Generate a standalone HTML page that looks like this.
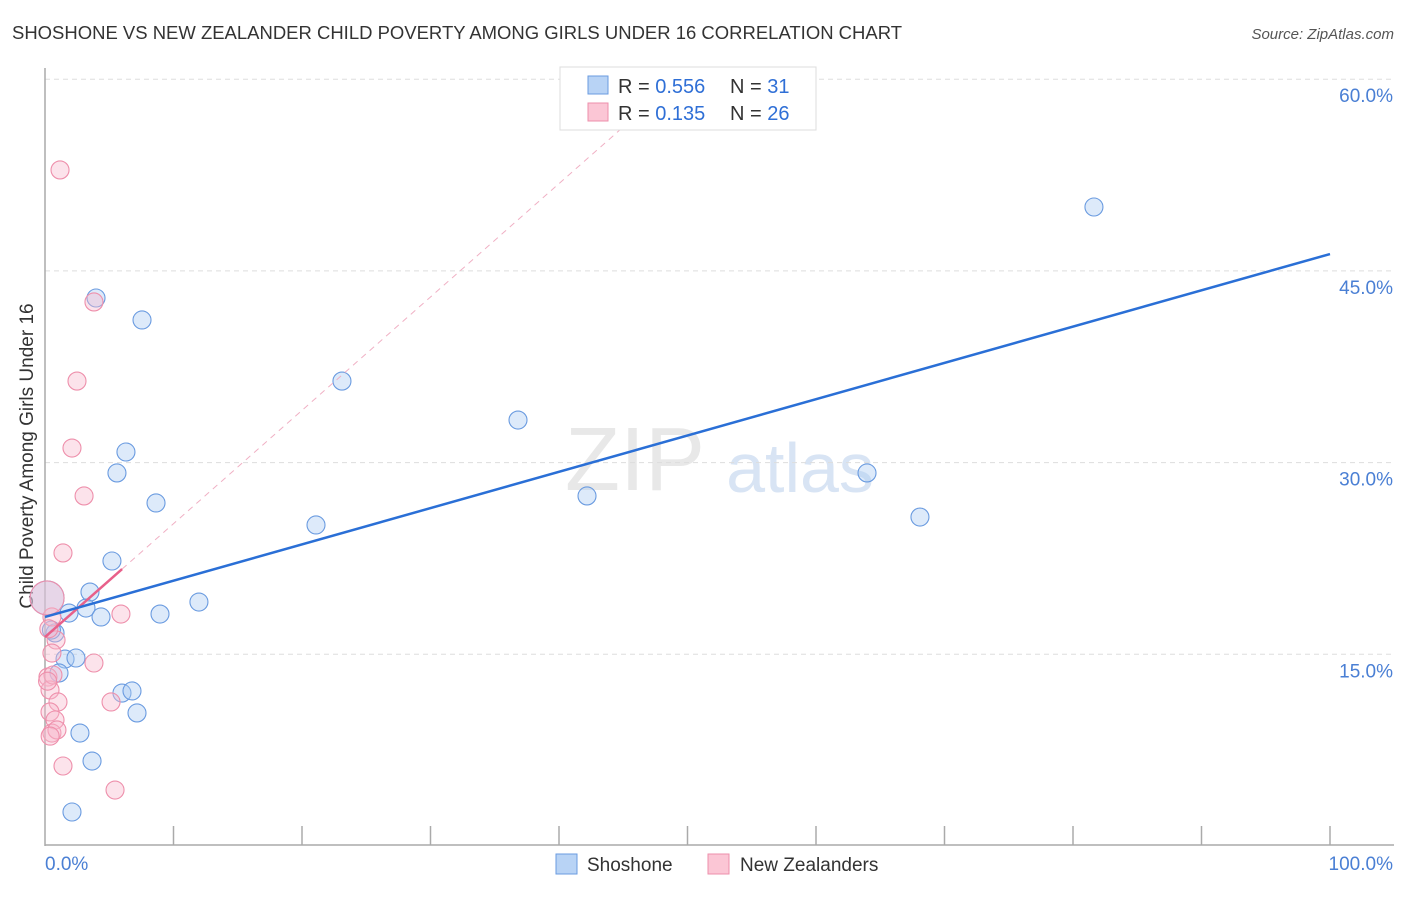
<!DOCTYPE html>
<html><head><meta charset="utf-8"><style>
body{margin:0;background:#fff;font-family:"Liberation Sans",sans-serif;}
svg text{font-family:"Liberation Sans",sans-serif;}
</style></head><body>
<svg id="chart" width="1406" height="892" xmlns="http://www.w3.org/2000/svg">
<text x="12" y="39" font-size="18" fill="#333" textLength="890" lengthAdjust="spacingAndGlyphs">SHOSHONE VS NEW ZEALANDER CHILD POVERTY AMONG GIRLS UNDER 16 CORRELATION CHART</text>
<text x="1394" y="39" font-size="15" fill="#555" text-anchor="end" font-style="italic">Source: ZipAtlas.com</text>
<text x="0" y="0" transform="translate(33,456) rotate(-90)" font-size="19" fill="#333" text-anchor="middle">Child Poverty Among Girls Under 16</text>
<text x="635" y="490" font-size="90" fill="#e8e8e8" font-family="Liberation Serif" text-anchor="middle">ZIP</text>
<text x="800" y="492" font-size="70" fill="#d8e4f4" text-anchor="middle">atlas</text>
<g id="grid"></g><g id="axes"></g><g id="marks"></g>
<g>
<rect x="560" y="67" width="256" height="63" fill="#fff" stroke="#ddd"/>
<rect x="588" y="76" width="20" height="18" fill="#b8d3f5" stroke="#6a9be0"/>
<rect x="588" y="103" width="20" height="18" fill="#fbc6d5" stroke="#ee8fab"/>
<text x="618" y="93" font-size="20" fill="#333">R = <tspan fill="#2f6fd6">0.556</tspan></text>
<text x="730" y="93" font-size="20" fill="#333">N = <tspan fill="#2f6fd6"> 31</tspan></text>
<text x="618" y="120" font-size="20" fill="#333">R = <tspan fill="#2f6fd6"> 0.135</tspan></text>
<text x="730" y="120" font-size="20" fill="#333">N = <tspan fill="#2f6fd6">26</tspan></text>
</g>
<g>
<rect x="556" y="854" width="21" height="20" fill="#b8d3f5" stroke="#6a9be0"/>
<text x="587" y="871" font-size="19" fill="#333">Shoshone</text>
<rect x="708" y="854" width="21" height="20" fill="#fbc6d5" stroke="#ee8fab"/>
<text x="740" y="871" font-size="19" fill="#333">New Zealanders</text>
</g>
</svg>
<script>
const yTicks=[15,30,45,60];
const yTickLabels=["15.0%","30.0%","45.0%","60.0%"];
const xEndLabels=["0.0%","100.0%"];
const shoX=[3.97,7.55,23.11,36.81,81.63,6.30,5.60,8.64,21.09,42.18,63.97,68.09,5.21,3.50,0.16,3.19,1.87,4.36,8.95,11.98,0.78,1.56,2.41,1.09,5.99,6.77,7.16,2.72,3.66,2.10,0.5];
const shoY=[42.88,41.16,36.38,33.33,50.0,30.83,29.19,26.84,25.12,27.39,29.19,25.74,22.30,19.87,19.41,18.62,18.23,17.92,18.15,19.09,16.67,14.63,14.71,13.54,11.97,12.13,10.41,8.84,6.65,2.66,16.9];
const shoR=[9,9,9,9,9,9,9,9,9,9,9,9,9,9,17,9,9,9,9,9,9,9,9,9,9,9,9,9,9,9,9];
const nzX=[1.17,3.81,2.49,2.10,3.04,1.40,5.91,0.54,0.86,0.54,3.81,0.23,0.39,1.01,5.14,0.39,0.78,0.54,0.93,1.40,5.45,0.16,0.62,0.3,0.4,0.2];
const nzY=[52.90,42.57,36.38,31.14,27.39,22.93,18.15,17.92,16.12,15.10,14.32,13.22,12.21,11.27,11.27,10.49,9.86,8.84,9.08,6.26,4.38,19.41,13.38,17.0,8.6,12.9];
const nzR=[9,9,9,9,9,9,9,9,9,9,9,9,9,9,9,9,9,9,9,9,9,17,9,9,9,9];
const shoTrend=[17.92,46.32];
const nzTrend=[16.35,0.887];
const X=v=>45+v*12.85, Y=v=>846-v*12.78;
const NS="http://www.w3.org/2000/svg";
function mk(p,t,a){const e=document.createElementNS(NS,t);for(const k in a)e.setAttribute(k,a[k]);document.getElementById(p).appendChild(e);return e;}
yTicks.forEach((t,i)=>{
 const l=mk('grid','line',{x1:45,x2:1394,y1:Y(t),y2:Y(t),stroke:'#ddd','stroke-dasharray':'5,4'});
 
 
 const tx=mk('grid','text',{x:1393,y:Y(t)+23,'font-size':19,fill:'#4a7fd4','text-anchor':'end'});
 tx.textContent=yTickLabels[i];
 
 
});
let a=mk('axes','line',{x1:45,x2:45,y1:68,y2:846,stroke:'#aaa','stroke-width':1.5});


a=mk('axes','line',{x1:45,x2:1394,y1:845,y2:845,stroke:'#aaa','stroke-width':1.5});


for(let i=1;i<=10;i++){const t=mk('axes','line',{x1:X(i*10),x2:X(i*10),y1:826,y2:845,stroke:'#aaa','stroke-width':1.5});
 
 }
[[0,'start',45],[100,'end',1393]].forEach((d,i)=>{const t=mk('axes','text',{x:d[2],y:870,'font-size':19,fill:'#4a7fd4','text-anchor':d[1]});t.textContent=xEndLabels[i];
 
 });
shoX.forEach((x,i)=>{const c=mk('marks','circle',{cx:X(x),cy:Y(shoY[i]),r:shoR[i],fill:'rgba(170,202,242,0.4)',stroke:'#6a9be0','stroke-width':1.1});
 
 });
nzX.forEach((x,i)=>{const c=mk('marks','circle',{cx:X(x),cy:Y(nzY[i]),r:nzR[i],fill:'rgba(248,185,205,0.4)',stroke:'#ee8fab','stroke-width':1.1});
 
 });
const xEnd=(60-nzTrend[0])/nzTrend[1];
let l=mk('marks','line',{x1:X(6),y1:Y(nzTrend[0]+6*nzTrend[1]),x2:X(xEnd),y2:Y(60),stroke:'#f0b0c4','stroke-width':1,'stroke-dasharray':'6,5'});


l=mk('marks','line',{x1:X(0),y1:Y(nzTrend[0]),x2:X(6),y2:Y(nzTrend[0]+6*nzTrend[1]),stroke:'#e8608a','stroke-width':2.5});


l=mk('marks','line',{x1:X(0),y1:Y(shoTrend[0]),x2:X(100),y2:Y(shoTrend[1]),stroke:'#2a6fd6','stroke-width':2.5});


</script>
</body></html>
